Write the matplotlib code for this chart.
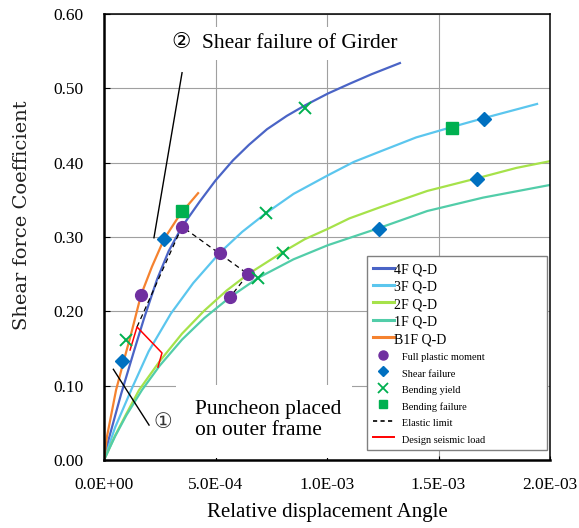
import matplotlib
matplotlib.use("Agg")
import matplotlib.pyplot as plt
from matplotlib.lines import Line2D
from matplotlib.patches import Rectangle
from matplotlib.ticker import FuncFormatter

# ---------------- data (x: relative displacement angle, y: shear force coefficient)
x_4f = [0, 0.022e-3, 0.076e-3, 0.135e-3, 0.179e-3, 0.238e-3, 0.290e-3, 0.350e-3,
        0.430e-3, 0.500e-3, 0.578e-3, 0.650e-3, 0.731e-3, 0.820e-3, 0.901e-3,
        1.004e-3, 1.100e-3, 1.200e-3, 1.327e-3]
y_4f = [0, 0.029, 0.088, 0.147, 0.190, 0.243, 0.281, 0.314,
        0.348, 0.376, 0.403, 0.424, 0.445, 0.463, 0.477,
        0.493, 0.506, 0.519, 0.534]

x_3f = [0, 0.050e-3, 0.126e-3, 0.200e-3, 0.300e-3, 0.400e-3, 0.520e-3, 0.620e-3,
        0.726e-3, 0.850e-3, 1.004e-3, 1.120e-3, 1.238e-3, 1.400e-3, 1.561e-3,
        1.704e-3, 1.942e-3]
y_3f = [0, 0.044, 0.097, 0.146, 0.197, 0.238, 0.279, 0.307,
        0.332, 0.358, 0.383, 0.401, 0.415, 0.434, 0.448,
        0.460, 0.479]

x_2f = [0, 0.050e-3, 0.100e-3, 0.157e-3, 0.250e-3, 0.350e-3, 0.450e-3, 0.550e-3,
        0.646e-3, 0.803e-3, 0.900e-3, 1.004e-3, 1.100e-3, 1.238e-3, 1.450e-3,
        1.673e-3, 1.850e-3, 2.0e-3]
y_2f = [0, 0.033, 0.062, 0.094, 0.133, 0.170, 0.201, 0.228,
        0.250, 0.280, 0.297, 0.311, 0.325, 0.340, 0.362,
        0.379, 0.393, 0.402]

x_1f = [0, 0.050e-3, 0.100e-3, 0.170e-3, 0.250e-3, 0.350e-3, 0.450e-3, 0.565e-3,
        0.691e-3, 0.850e-3, 1.004e-3, 1.233e-3, 1.450e-3, 1.700e-3, 2.0e-3]
y_1f = [0, 0.032, 0.060, 0.094, 0.127, 0.162, 0.191, 0.219,
        0.245, 0.270, 0.289, 0.312, 0.335, 0.353, 0.370]

x_b1f = [0, 0.013e-3, 0.054e-3, 0.090e-3, 0.121e-3, 0.166e-3, 0.215e-3, 0.269e-3,
         0.340e-3, 0.422e-3]
y_b1f = [0, 0.031, 0.094, 0.135, 0.169, 0.222, 0.260, 0.297,
         0.330, 0.359]

# markers
plastic_x = [0.166e-3, 0.350e-3, 0.520e-3, 0.646e-3, 0.565e-3]
plastic_y = [0.222, 0.314, 0.279, 0.250, 0.219]
shear_x = [0.079e-3, 0.269e-3, 1.704e-3, 1.673e-3, 1.233e-3]
shear_y = [0.133, 0.297, 0.459, 0.378, 0.311]
byield_x = [0.097e-3, 0.901e-3, 0.726e-3, 0.803e-3, 0.691e-3]
byield_y = [0.161, 0.474, 0.332, 0.279, 0.245]
bfail_x = [0.350e-3, 1.561e-3]
bfail_y = [0.335, 0.447]

elastic_x = [0.148e-3, 0.350e-3, 0.646e-3, 0.565e-3]
elastic_y = [0.179, 0.314, 0.250, 0.219]
design_x = [0.117e-3, 0.148e-3, 0.260e-3, 0.242e-3]
design_y = [0.148, 0.179, 0.144, 0.125]

lead2_x = [0.350e-3, 0.224e-3]
lead2_y = [0.521, 0.299]
lead1_x = [0.042e-3, 0.202e-3]
lead1_y = [0.122, 0.047]

series_labels = ["4F Q-D", "3F Q-D", "2F Q-D", "1F Q-D", "B1F Q-D"]
marker_labels = ["Full plastic moment", "Shear failure", "Bending yield",
                 "Bending failure", "Elastic limit", "Design seismic load"]
x_ticks = [0, 0.5e-3, 1.0e-3, 1.5e-3, 2.0e-3]
y_ticks = [0.0, 0.1, 0.2, 0.3, 0.4, 0.5, 0.6]

# ---------------- style
C4, C3, C2, C1, CB = "#4A64C6", "#5BC6EE", "#A6E24A", "#52CDA9", "#F5822F"
PURPLE, DBLUE, GREEN, RED = "#7030A0", "#0070C0", "#00B050", "#FF0000"
SERIF = "Liberation Serif"

W, H = 579, 528
fig = plt.figure(figsize=(W / 100, H / 100), dpi=100)
ax = fig.add_axes([104 / W, 1 - 460 / H, 446 / W, 446 / H])
ax.set_xlim(0, 2.0e-3)
ax.set_ylim(0, 0.6)

lw = 1.6
ax.plot(x_4f, y_4f, color=C4, lw=lw, zorder=3)
ax.plot(x_3f, y_3f, color=C3, lw=lw, zorder=3)
ax.plot(x_2f, y_2f, color=C2, lw=lw, zorder=3)
ax.plot(x_1f, y_1f, color=C1, lw=lw, zorder=3)
ax.plot(x_b1f, y_b1f, color=CB, lw=lw, zorder=3)

ax.plot(elastic_x, elastic_y, color="black", lw=0.9, ls=(0, (4, 3)), zorder=4)
ax.plot(design_x, design_y, color=RED, lw=1.1, zorder=4)

ax.plot(plastic_x, plastic_y, ls="none", marker="o", ms=8.5, color=PURPLE, zorder=5)
ax.plot(shear_x, shear_y, ls="none", marker="D", ms=7, color=DBLUE, zorder=5)
ax.plot(byield_x, byield_y, ls="none", marker="x", ms=8, mew=1.4, color=GREEN, zorder=5)
ax.plot(bfail_x, bfail_y, ls="none", marker="s", ms=8, color=GREEN, zorder=5)

ax.plot(lead2_x, lead2_y, color="black", lw=1.0, zorder=4)
ax.plot(lead1_x, lead1_y, color="black", lw=1.0, zorder=4)

# grid / axes
ax.set_xticks(x_ticks)
ax.set_yticks(y_ticks)
ax.grid(True, color="#A0A0A0", lw=0.8)
ax.set_axisbelow(True)
ax.xaxis.set_major_formatter(FuncFormatter(lambda v, p: f"{v:.1E}"))
ax.yaxis.set_major_formatter(FuncFormatter(lambda v, p: f"{v:.2f}"))
ax.tick_params(axis="y", direction="in", length=4.5, width=0.8, pad=15,
               labelsize=12.5)
ax.tick_params(axis="x", direction="in", length=3, width=0.8, pad=12,
               labelsize=12.5)
for lab in ax.get_xticklabels() + ax.get_yticklabels():
    lab.set_fontfamily(SERIF)
for s in ["left", "bottom"]:
    ax.spines[s].set_linewidth(1.8)
for s in ["top", "right"]:
    ax.spines[s].set_linewidth(1.1)
ax.spines[:].set_color("black")
ax.spines[:].set_zorder(6)

# annotations
ax.text(0.305e-3, 0.560, "\u2461  Shear failure of Girder", fontsize=15.5,
        family=[SERIF, "DejaVu Sans"], va="center", ha="left", zorder=7,
        bbox=dict(facecolor="white", edgecolor="none", pad=5))
ax.text(0.265e-3, 0.051, "\u2460", fontsize=15, family=["DejaVu Sans"],
        va="center", ha="center", zorder=7, color="#333333")
ax.add_patch(Rectangle((0.323e-3, 0.003), 0.79e-3, 0.098, facecolor="white",
                       edgecolor="none", zorder=7))
ax.text(0.408e-3, 0.054, "Puncheon placed\non outer frame", fontsize=15.5,
        family=SERIF, va="center", ha="left", zorder=8, linespacing=1.15)

# legend
handles = [
    Line2D([], [], color=C4, lw=2.2),
    Line2D([], [], color=C3, lw=2.2),
    Line2D([], [], color=C2, lw=2.2),
    Line2D([], [], color=C1, lw=2.2),
    Line2D([], [], color=CB, lw=2.2),
    Line2D([], [], ls="none", marker="o", ms=6.5, color=PURPLE),
    Line2D([], [], ls="none", marker="D", ms=5, color=DBLUE),
    Line2D([], [], ls="none", marker="x", ms=6.5, mew=1.3, color=GREEN),
    Line2D([], [], ls="none", marker="s", ms=6, color=GREEN),
    Line2D([], [], color="black", lw=1.2, ls=(0, (2.5, 2))),
    Line2D([], [], color=RED, lw=1.4),
]
labels = series_labels + ["   " + m for m in marker_labels]
leg = ax.legend(handles, labels, loc="upper left",
                bbox_to_anchor=(0.590, 0.0247, 0.403, 0.432), mode="expand",
                borderaxespad=0, prop={"family": SERIF, "size": 10},
                handlelength=1.5, handleheight=1.1, handletextpad=0.0,
                labelspacing=0.22, borderpad=0.4, fancybox=False,
                edgecolor="#808080", framealpha=1)
leg.get_frame().set_linewidth(1.0)
leg.set_zorder(9)
for t in leg.get_texts()[5:]:
    t.set_fontsize(7.5)

fig.text(327 / W, 1 - 513 / H, "Relative displacement Angle", fontsize=15,
         family=SERIF, ha="center", va="center")
fig.text(22 / W, 1 - 215 / H, "Shear force Coefficient", fontsize=14,
         family="DejaVu Serif", ha="center", va="center", rotation=90,
         color="#222222")

fig.savefig("out.png", dpi=100)
